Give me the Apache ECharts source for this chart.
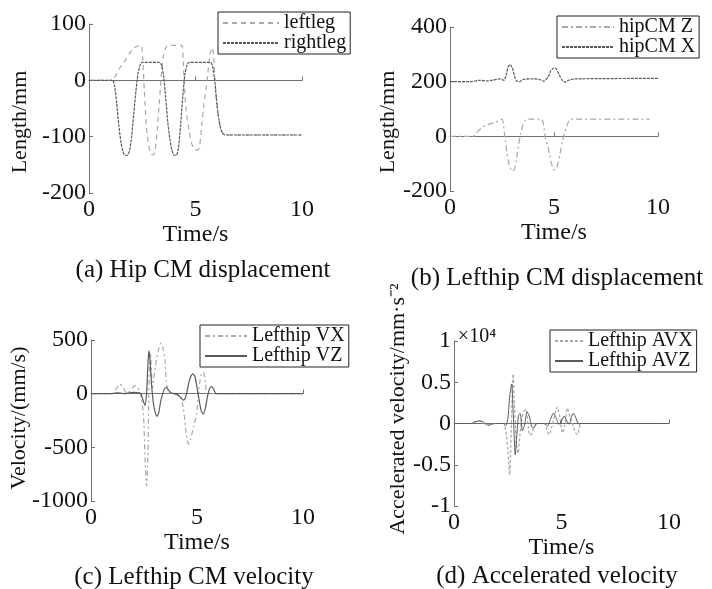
<!DOCTYPE html>
<html><head><meta charset="utf-8">
<script src="https://cdn.jsdelivr.net/npm/echarts@6/dist/echarts.min.js"></script>
<style>html,body{margin:0;padding:0;background:#fff}#c{width:712px;height:589px}</style>
</head><body><div id="c"></div>
<script>
// ---------- data (time in s, value) ----------
const xTicks = [0, 5, 10];
// (a) Hip CM displacement, mm
const leftleg = [[0,0],[1.1,0],[1.2,5],[1.3,12],[1.45,22],[1.55,28],[1.7,35],[1.9,48],[2.1,57],[2.3,61],[2.45,62],[2.52,40],[2.6,-20],[2.7,-85],[2.8,-115],[2.9,-130],[3.0,-133],[3.1,-125],[3.2,-90],[3.3,-40],[3.4,10],[3.5,45],[3.6,58],[3.7,62],[4.35,62],[4.42,35],[4.5,-25],[4.6,-65],[4.7,-90],[4.8,-110],[4.95,-122],[5.1,-124],[5.2,-115],[5.3,-75],[5.4,-40],[5.5,-15],[5.6,20],[5.7,50],[5.8,58],[5.9,10],[6.0,-40],[6.1,-70],[6.2,-88],[6.3,-95],[6.4,-97],[10,-97]];
const rightleg = [[0,0],[1.1,0],[1.2,-10],[1.3,-40],[1.4,-80],[1.5,-110],[1.6,-127],[1.7,-133],[1.8,-133],[1.9,-125],[2.0,-100],[2.1,-60],[2.2,-20],[2.3,12],[2.4,27],[2.5,32],[3.3,32],[3.4,27],[3.5,8],[3.6,-30],[3.7,-75],[3.8,-105],[3.9,-125],[4.0,-133],[4.1,-133],[4.2,-120],[4.3,-80],[4.4,-30],[4.5,10],[4.6,27],[4.7,32],[5.7,32],[5.8,25],[5.9,0],[6.0,-40],[6.1,-70],[6.2,-88],[6.3,-95],[6.4,-97],[10,-97]];
// (b) Lefthip CM displacement, mm
const hipCMZ = [[0,0],[1.1,0],[1.3,15],[1.5,30],[1.7,40],[1.9,45],[2.2,52],[2.5,63],[2.6,20],[2.7,-40],[2.8,-90],[2.9,-115],[3.0,-128],[3.1,-120],[3.2,-80],[3.3,-30],[3.4,10],[3.5,40],[3.6,58],[3.75,63],[4.4,63],[4.5,40],[4.6,-10],[4.7,-35],[4.8,-70],[4.9,-105],[5.0,-122],[5.1,-120],[5.2,-95],[5.3,-60],[5.4,-20],[5.5,10],[5.6,35],[5.7,55],[5.8,63],[9.6,63]];
const hipCMX = [[0,200],[1.0,200],[1.4,205],[1.8,203],[2.0,205],[2.4,210],[2.6,205],[2.7,225],[2.8,255],[2.9,262],[3.0,250],[3.1,220],[3.2,203],[3.35,200],[3.5,208],[4.0,210],[4.3,208],[4.5,202],[4.7,215],[4.85,240],[5.0,250],[5.1,248],[5.25,225],[5.4,205],[5.55,198],[5.7,205],[6.0,210],[10,212]];
// (c) Lefthip CM velocity, mm/s
const vx = [[0,0],[1.0,0],[1.2,50],[1.35,88],[1.5,70],[1.65,10],[1.8,20],[2.0,65],[2.1,75],[2.25,40],[2.35,-20],[2.45,-150],[2.5,-290],[2.55,-600],[2.62,-860],[2.68,-600],[2.72,-100],[2.76,300],[2.8,380],[2.9,50],[3.0,200],[3.15,380],[3.3,470],[3.4,420],[3.5,290],[3.55,120],[3.65,20],[3.8,0],[4.2,-20],[4.35,-130],[4.5,-380],[4.6,-470],[4.7,-420],[4.85,-300],[4.98,-190],[5.1,60],[5.2,180],[5.3,200],[5.4,100],[5.5,0],[10,0]];
const vz = [[0,0],[1.0,0],[1.2,8],[1.4,5],[1.6,0],[1.8,8],[2.0,12],[2.2,10],[2.35,0],[2.45,-60],[2.55,-110],[2.62,0],[2.68,250],[2.73,400],[2.78,330],[2.85,100],[2.95,-100],[3.05,-190],[3.12,-210],[3.2,-170],[3.3,-60],[3.45,40],[3.55,60],[3.65,35],[3.8,5],[4.0,0],[4.2,-30],[4.35,-60],[4.45,-40],[4.55,40],[4.65,130],[4.8,185],[4.9,160],[5.0,60],[5.1,-60],[5.2,-160],[5.3,-190],[5.4,-130],[5.5,-20],[5.6,50],[5.7,65],[5.8,35],[5.9,0],[10,0]];
// (d) Accelerated velocity, mm/s^2
const avx = [[0,0],[0.8,0],[1.0,250],[1.2,300],[1.4,0],[1.6,-200],[1.8,0],[2.3,0],[2.4,-800],[2.5,-3000],[2.59,-6200],[2.66,-1000],[2.75,6000],[2.82,2000],[2.9,-2500],[2.98,-3600],[3.06,-1500],[3.15,500],[3.25,1500],[3.35,1700],[3.45,-300],[3.52,-1400],[3.62,-1200],[3.75,-200],[3.9,0],[4.2,0],[4.3,-600],[4.42,-1350],[4.55,-400],[4.7,1200],[4.8,2000],[4.92,800],[5.04,-1150],[5.15,-300],[5.27,1850],[5.4,800],[5.55,-400],[5.65,-1100],[5.74,-1350],[5.85,-300],[5.95,0],[10,0]];
const avz = [[0,0],[0.8,0],[1.0,200],[1.2,340],[1.4,100],[1.6,-220],[1.8,-50],[2.0,0],[2.3,0],[2.4,-300],[2.5,500],[2.6,3500],[2.68,4800],[2.76,1000],[2.85,-3800],[2.92,-1500],[3.0,1000],[3.08,1200],[3.18,-900],[3.28,-200],[3.4,1400],[3.5,900],[3.62,-400],[3.72,-500],[3.85,0],[4.2,0],[4.35,-300],[4.5,600],[4.62,1250],[4.75,700],[4.88,-100],[5.0,300],[5.12,900],[5.25,300],[5.35,-100],[5.45,700],[5.55,1250],[5.68,600],[5.8,-100],[5.9,0],[10,0]];

// ---------- styling ----------
const FONT = '"Liberation Serif","Times New Roman",serif';
const DARK = '#5a5a5a', LIGHT = '#a8a8a8', AXIS = '#707070', TXT = '#111';

const grids = [
  {left: 89,  top: 24,  width: 213, height: 169},
  {left: 450, top: 27,  width: 208, height: 164},
  {left: 91,  top: 340, width: 212, height: 161},
  {left: 454, top: 341, width: 215, height: 165}
];
const yRanges = [
  {min: -200, max: 100, interval: 100},
  {min: -200, max: 400, interval: 200},
  {min: -1000, max: 500, interval: 500},
  {min: -10000, max: 10000, interval: 5000}
];

function xAxis(i) {
  return {
    type: 'value', gridIndex: i, min: 0, max: 10, interval: 5,
    name: 'Time/s', nameLocation: 'middle', nameGap: 25,
    nameTextStyle: {fontFamily: FONT, fontSize: 24, color: TXT},
    axisLine: {show: true, lineStyle: {color: AXIS, width: 1}},
    axisTick: {show: true, inside: true, length: 4, lineStyle: {color: AXIS}},
    axisLabel: {fontFamily: FONT, fontSize: 24, color: TXT, margin: 5,
      customValues: xTicks},
    splitLine: {show: false}
  };
}
function yAxis(i) {
  const r = yRanges[i];
  return {
    type: 'value', gridIndex: i, min: r.min, max: r.max, interval: r.interval,
    axisLine: {show: true, lineStyle: {color: AXIS, width: 1}},
    axisTick: {show: true, inside: true, length: 4, lineStyle: {color: AXIS}},
    axisLabel: {fontFamily: FONT, fontSize: 24, color: TXT, margin: 3,
      formatter: i === 3 ? (v => String(v / 10000)) : (v => String(v))},
    splitLine: {show: false}
  };
}
function line(name, data, gi, color, dash, w) {
  return {
    type: 'line', name, data, xAxisIndex: gi, yAxisIndex: gi,
    symbol: 'none', smooth: 0.25, animation: false,
    lineStyle: {color, width: w || 1.2, type: dash},
    itemStyle: {color}
  };
}
function legend(names, left, top, iw) {
  return {
    data: names, left, top, orient: 'vertical', itemGap: 0,
    itemWidth: iw, itemHeight: 10,
    itemStyle: {opacity: 0, borderWidth: 0},
    padding: [1, 4, 1, 4], borderColor: '#222', borderWidth: 1,
    backgroundColor: '#fff',
    textStyle: {fontFamily: FONT, fontSize: 20, color: TXT, lineHeight: 19}
  };
}
function vtext(text, x, y, size) {
  return {type: 'text', x, y, rotation: Math.PI / 2,
    style: {text, font: size + 'px ' + FONT, fill: TXT,
      align: 'center', verticalAlign: 'middle', textAlign: 'center', textVerticalAlign: 'middle'}};
}
function htext(text, x, y, size) {
  return {type: 'text', x, y,
    style: {text, font: size + 'px ' + FONT, fill: TXT,
      align: 'center', verticalAlign: 'middle', textAlign: 'center', textVerticalAlign: 'middle'}};
}

const chart = echarts.init(document.getElementById('c'), null, {renderer: 'canvas'});
chart.setOption({
  backgroundColor: '#fff',
  animation: false,
  grid: grids,
  xAxis: [0,1,2,3].map(xAxis),
  yAxis: [0,1,2,3].map(yAxis),
  legend: [
    legend(['leftleg', 'rightleg'], 218, 12, 56),
    legend(['hipCM Z', 'hipCM X'], 557, 16, 52),
    legend(['Lefthip VX', 'Lefthip VZ'], 200, 325, 42),
    legend(['Lefthip AVX', 'Lefthip AVZ'], 550, 330, 28)
  ],
  series: [
    line('leftleg', leftleg, 0, LIGHT, [5, 4]),
    line('rightleg', rightleg, 0, DARK, [3, 1]),
    line('hipCM Z', hipCMZ, 1, LIGHT, [6, 3, 2, 3]),
    line('hipCM X', hipCMX, 1, DARK, [3, 1]),
    line('Lefthip VX', vx, 2, LIGHT, [5, 3, 2, 3]),
    line('Lefthip VZ', vz, 2, DARK, 'solid'),
    line('Lefthip AVX', avx, 3, LIGHT, [3, 2]),
    line('Lefthip AVZ', avz, 3, DARK, 'solid', 1)
  ],
  graphic: [
    vtext('Length/mm', 20, 122, 22),
    vtext('Length/mm', 388, 122, 22),
    vtext('Velocity/(mm/s)', 19, 418, 22),
    vtext('Accelerated velocity/mm·s⁻²', 398, 409, 22),
    htext('×10⁴', 477, 337, 20),
    htext('(a) Hip CM displacement', 203, 270, 25),
    htext('(b) Lefthip CM displacement', 557, 278, 25),
    htext('(c) Lefthip CM velocity', 194, 577, 25),
    htext('(d) Accelerated velocity', 557, 576, 25)
  ]
});
</script></body></html>
